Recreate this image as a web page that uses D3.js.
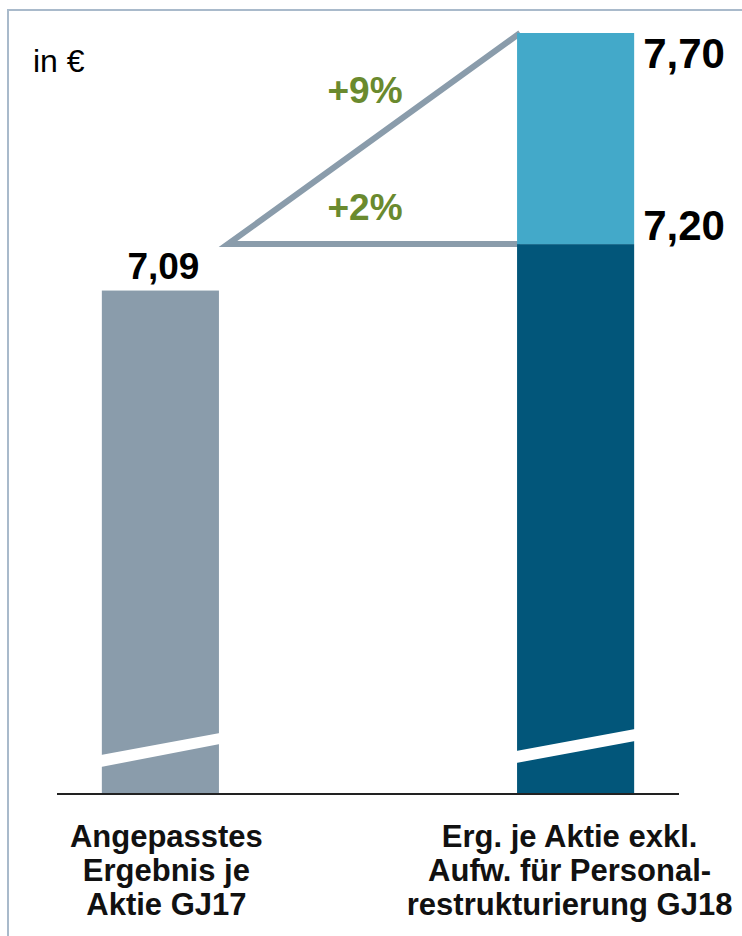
<!DOCTYPE html>
<html>
<head>
<meta charset="utf-8">
<script src="https://cdn.jsdelivr.net/npm/d3@7"></script>
<style>
    body { margin: 0; background: #fff; }
    svg { display: block; font-family: "Liberation Sans", Arial, sans-serif; }
</style>
</head>
<body>
<div id="chart"></div>
<script>
// data
const categories = ["GJ17", "GJ18"];
const categoryLabels = [
    ["Angepasstes", "Ergebnis je", "Aktie GJ17"],
    ["Erg. je Aktie exkl.", "Aufw. für Personal-", "restrukturierung GJ18"]
];
const baseValues = [7.09, 7.20];       // bottom segment
const topValues = [null, 7.70];        // incl. personnel restructuring
const valueLabels = ["7,09", "7,20", "7,70"];
const growthLabels = ["+9%", "+2%"];
const unitLabel = "in €";

const width = 742;
const height = 936;

const colors = {
    gj17: "#8a9cab",
    gj18: "#02567a",
    top: "#43a9c9",
    tri: "#8a9cab",
    green: "#6a8a2e",
    frame: "#a9bacb"
};

const svg = d3.select("#chart").append("svg")
    .attr("width", width)
    .attr("height", height)
    .attr("viewBox", [0, 0, width, height]);

// frame around the chart (right/bottom run off the picture)
svg.append("rect")
    .attr("x", 8)
    .attr("y", 10)
    .attr("width", width + 20)
    .attr("height", height + 20)
    .attr("fill", "none")
    .attr("stroke", colors.frame)
    .attr("stroke-width", 2);

const x = d3.scaleBand()
    .domain(categories)
    .range([57, 679])
    .paddingInner(0.718)
    .paddingOuter(0.108);

// broken axis: bars start well above zero
const y = d3.scaleLinear()
    .domain([5.9, 7.70])
    .range([793, 33]);

const baseY = y.range()[0];

// growth triangle (drawn first so the bar covers its end)
const triLeft = x("GJ17") + x.bandwidth() + 9;
const triRight = x("GJ18") + 3;
svg.append("path")
    .attr("d", d3.line()([
        [triRight, y(topValues[1])],
        [triLeft, y(baseValues[1])],
        [triRight, y(baseValues[1])]
    ]))
    .attr("fill", "none")
    .attr("stroke", colors.tri)
    .attr("stroke-width", 6)
    .attr("stroke-linejoin", "miter");

// base bars
svg.append("g")
    .selectAll("rect")
    .data(baseValues)
    .join("rect")
    .attr("x", (d, i) => x(categories[i]))
    .attr("y", d => y(d))
    .attr("width", x.bandwidth())
    .attr("height", d => baseY - y(d))
    .attr("fill", (d, i) => i === 0 ? colors.gj17 : colors.gj18);

// top segment of GJ18
svg.append("rect")
    .attr("x", x("GJ18"))
    .attr("y", y(topValues[1]))
    .attr("width", x.bandwidth())
    .attr("height", y(baseValues[1]) - y(topValues[1]))
    .attr("fill", colors.top);

// white break bands across the bars
const breaks = [[38, 26, 60, 49], [42, 30, 64, 52]];
svg.append("g")
    .selectAll("polygon")
    .data(categories)
    .join("polygon")
    .attr("fill", "#fff")
    .attr("points", (c, i) => {
        const b = breaks[i];
        const x0 = x(c) - 1, x1 = x(c) + x.bandwidth() + 1;
        return [[x0, baseY - b[0]], [x1, baseY - b[2]], [x1, baseY - b[3]], [x0, baseY - b[1]]].join(" ");
    });

// baseline
svg.append("line")
    .attr("x1", 57)
    .attr("x2", 679)
    .attr("y1", baseY + 1)
    .attr("y2", baseY + 1)
    .attr("stroke", "#222")
    .attr("stroke-width", 2);

// value labels
svg.append("text")
    .attr("x", x("GJ17") + x.bandwidth() / 2 + 3)
    .attr("y", y(baseValues[0]) - 12)
    .attr("text-anchor", "middle")
    .attr("font-size", 37)
    .attr("font-weight", "bold")
    .text(valueLabels[0]);

svg.append("text")
    .attr("x", x("GJ18") + x.bandwidth() + 9)
    .attr("y", y(baseValues[1]) - 4)
    .attr("font-size", 42)
    .attr("font-weight", "bold")
    .text(valueLabels[1]);

svg.append("text")
    .attr("x", x("GJ18") + x.bandwidth() + 9)
    .attr("y", y(topValues[1]) + 35)
    .attr("font-size", 42)
    .attr("font-weight", "bold")
    .text(valueLabels[2]);

// growth labels
const midX = (triLeft + triRight) / 2 - 9;
svg.append("text")
    .attr("x", midX)
    .attr("y", y(topValues[1]) + 70)
    .attr("text-anchor", "middle")
    .attr("font-size", 37)
    .attr("font-weight", "bold")
    .attr("fill", colors.green)
    .text(growthLabels[0]);

svg.append("text")
    .attr("x", midX)
    .attr("y", y(baseValues[1]) - 24)
    .attr("text-anchor", "middle")
    .attr("font-size", 37)
    .attr("font-weight", "bold")
    .attr("fill", colors.green)
    .text(growthLabels[1]);

// unit
svg.append("text")
    .attr("x", 33)
    .attr("y", 72)
    .attr("font-size", 32)
    .text(unitLabel);

// category labels
const cat = svg.append("g")
    .selectAll("text")
    .data(categories)
    .join("text")
    .attr("text-anchor", "middle")
    .attr("font-size", 31)
    .attr("font-weight", "bold")
    .attr("fill", "#111");

cat.selectAll("tspan")
    .data((c, i) => categoryLabels[i].map(t => ({ t, c })))
    .join("tspan")
    .attr("x", d => x(d.c) + x.bandwidth() / 2 + (d.c === "GJ17" ? 6 : -6))
    .attr("y", (d, j) => 847 + j * 34)
    .text(d => d.t);
</script>
</body>
</html>
